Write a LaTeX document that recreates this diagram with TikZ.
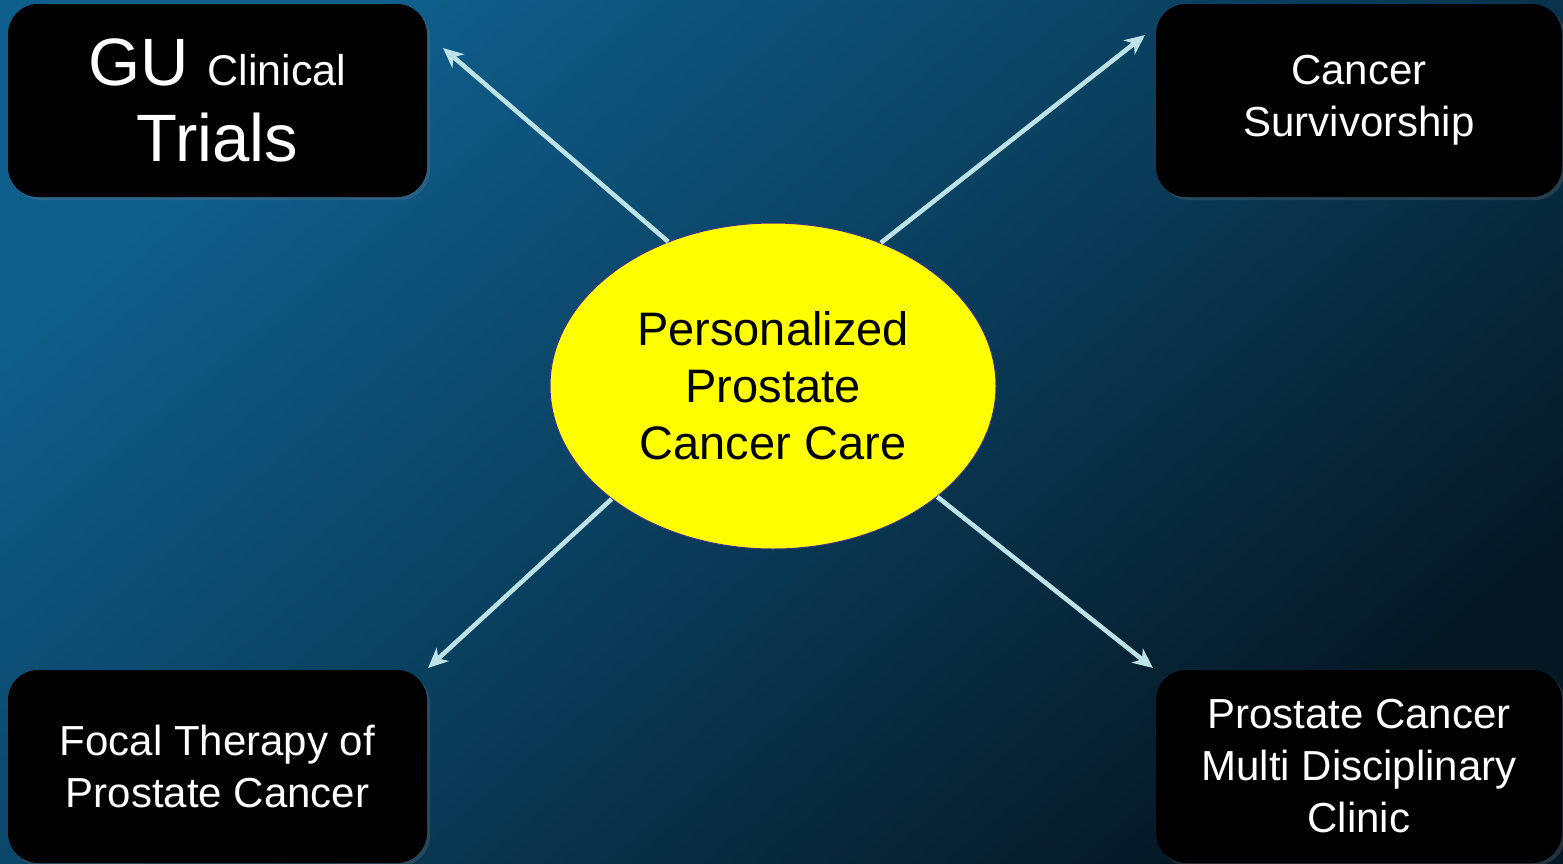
\documentclass[tikz,border=0pt]{standalone}
\usepackage{fontspec}
\setmainfont{Liberation Sans}
\usetikzlibrary{arrows.meta,shapes.geometric,shadows}
\definecolor{bgA}{HTML}{0F5F8D}
\definecolor{bgB}{HTML}{0A3D5B}
\definecolor{bgC}{HTML}{051824}
\definecolor{arrc}{HTML}{BDE3E6}
\definecolor{ellborder}{HTML}{3B2F8F}
\definecolor{ellfill}{HTML}{FFFF00}
\tikzset{
  box/.style={draw=none, fill=black, rounded corners=15pt, text=white, align=center,
    inner sep=0pt, font=\fontsize{21}{26}\selectfont,
    drop shadow={opacity=0.25, shadow xshift=1.5pt, shadow yshift=-1.5pt}},
  core/.style={ellipse, fill=ellfill, draw=ellborder, line width=0.5pt,
    minimum width=223pt, minimum height=163pt, inner sep=0pt, align=center,
    font=\fontsize{23.5}{28.5}\selectfont, text=black},
  arr/.style={draw=arrc, line width=2.3pt, -{Stealth[length=10pt,width=9pt,inset=3pt]}}
}
\begin{document}
\begin{tikzpicture}[x=0.5pt,y=-0.5pt]
\useasboundingbox (0,0) rectangle (1563,863);
\shade[top color=bgA, bottom color=bgC, middle color=bgB, shading angle=40] (0,0) rectangle (1563,863);
\clip (0,0) rectangle (1563,863);
\node[box, minimum width=209.5pt, minimum height=96.5pt, font=\fontsize{33.5}{38}\selectfont] (tl) at (217.5,100.5)
  {GU {\fontsize{21.5}{26}\selectfont Clinical}\\Trials};
\node[box, minimum width=203pt, minimum height=96.5pt] (tr) at (1359,100.5)
  {Cancer\\Survivorship};
\node[box, minimum width=209.5pt, minimum height=96.5pt] (bl) at (217.5,766.5)
  {Focal Therapy of\\Prostate Cancer};
\node[box, minimum width=203pt, minimum height=96.5pt] (br) at (1359,766.5)
  {Prostate Cancer\\Multi Disciplinary\\Clinic};
\node[core] (e) at (773,386) {Personalized\\Prostate\\Cancer Care};
\coordinate (etl) at (443,48);
\coordinate (etr) at (1145,35);
\coordinate (ebl) at (428,668);
\coordinate (ebr) at (1153,668);
\draw[arr] (e.126) -- (etl);
\draw[arr] (e.53) -- (etr);
\draw[arr] (e.215) -- (ebl);
\draw[arr] (e.326) -- (ebr);
\end{tikzpicture}
\end{document}
